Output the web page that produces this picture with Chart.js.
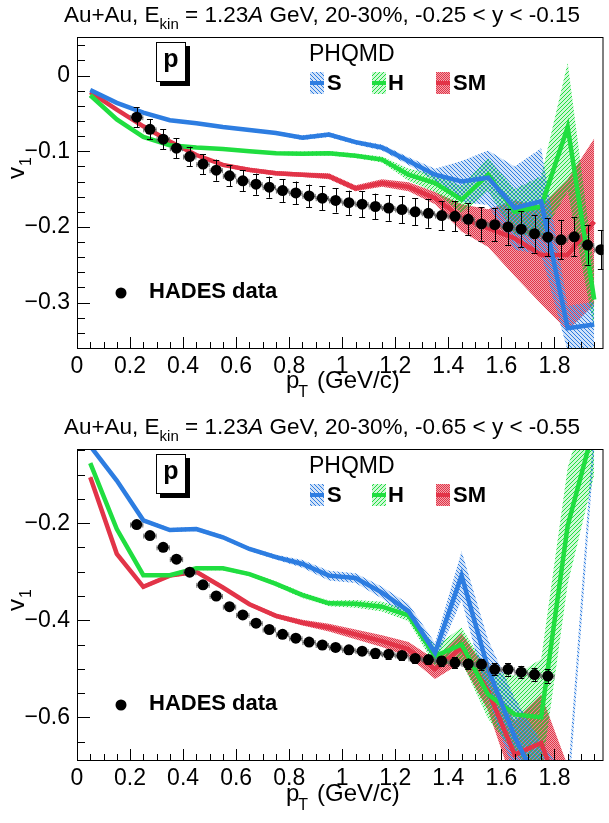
<!DOCTYPE html>
<html><head><meta charset="utf-8">
<script src="https://cdn.jsdelivr.net/npm/chart.js@4.4.0/dist/chart.umd.min.js"></script>
<style>
html,body{margin:0;padding:0;background:#fff;}
#wrap{position:relative;width:609px;height:823px;overflow:hidden;}
canvas{position:absolute;left:0;}
</style></head><body>
<div id="wrap">
<canvas id="c1" width="609" height="410" style="top:0;width:609px;height:410px"></canvas>
<canvas id="c2" width="609" height="413" style="top:410px;width:609px;height:413px"></canvas>
</div>
<script>
// ---------------- data ----------------
const modelPt = [0.05,0.15,0.25,0.35,0.45,0.55,0.65,0.75,0.85,0.95,1.05,1.15,1.25,1.35,1.45,1.55,1.65,1.75,1.85,1.95];

const topS     = [-0.019,-0.036,-0.049,-0.059,-0.063,-0.068,-0.072,-0.076,-0.082,-0.078,-0.088,-0.095,-0.113,-0.131,-0.140,-0.135,-0.175,-0.166,-0.334,-0.329];
const topSErr  = [0.002,0.002,0.002,0.002,0.002,0.002,0.002,0.002,0.003,0.003,0.003,0.004,0.005,0.008,0.027,0.036,0.055,0.070,0.030,0.030];
const topH     = [-0.026,-0.058,-0.081,-0.092,-0.095,-0.097,-0.100,-0.1025,-0.1034,-0.1025,-0.106,-0.111,-0.131,-0.142,-0.164,-0.131,-0.180,-0.173,-0.068,-0.296];
const topHErr  = [0.002,0.002,0.002,0.002,0.002,0.002,0.002,0.002,0.003,0.003,0.003,0.004,0.008,0.012,0.018,0.022,0.030,0.040,0.085,0.040];
const topSM    = [-0.022,-0.045,-0.067,-0.087,-0.105,-0.118,-0.1246,-0.129,-0.131,-0.133,-0.149,-0.142,-0.147,-0.162,-0.188,-0.2016,-0.215,-0.237,-0.237,-0.193];
const topSMErr = [0.002,0.002,0.002,0.002,0.002,0.002,0.003,0.003,0.003,0.004,0.004,0.005,0.006,0.008,0.018,0.025,0.050,0.065,0.100,0.110];

const botS     = [-0.041,-0.112,-0.194,-0.214,-0.212,-0.229,-0.253,-0.270,-0.284,-0.308,-0.313,-0.343,-0.381,-0.467,-0.308,-0.500,-0.640,-0.750,-0.760,-0.020];
const botSErr  = [0.004,0.004,0.004,0.004,0.004,0.004,0.004,0.005,0.008,0.010,0.010,0.012,0.015,0.020,0.050,0.060,0.080,0.100,0.030,0.030];
const botSLinePoints = 18;
const botH     = [-0.076,-0.212,-0.307,-0.307,-0.293,-0.293,-0.305,-0.325,-0.348,-0.365,-0.366,-0.372,-0.390,-0.474,-0.450,-0.553,-0.594,-0.600,-0.205,0.000];
const botHErr  = [0.004,0.004,0.004,0.004,0.004,0.004,0.004,0.005,0.006,0.006,0.008,0.010,0.012,0.020,0.035,0.050,0.080,0.120,0.120,0.100];
const botSM    = [-0.105,-0.263,-0.331,-0.308,-0.300,-0.3325,-0.367,-0.391,-0.405,-0.415,-0.429,-0.443,-0.460,-0.501,-0.457,-0.546,-0.677,-0.653,-0.800,-0.850];
const botSMErr = [0.004,0.004,0.004,0.004,0.004,0.004,0.004,0.005,0.006,0.008,0.010,0.012,0.015,0.020,0.030,0.040,0.070,0.100,0.100,0.100];

const dataPtTop  = [0.225,0.275,0.325,0.375,0.425,0.475,0.525,0.575,0.625,0.675,0.725,0.775,0.825,0.875,0.925,0.975,1.025,1.075,1.125,1.175,1.225,1.275,1.325,1.375,1.425,1.475,1.525,1.575,1.625,1.675,1.725,1.775,1.825,1.875,1.925,1.975];
const dataTop    = [-0.055,-0.071,-0.084,-0.096,-0.107,-0.117,-0.125,-0.1325,-0.139,-0.1435,-0.1475,-0.152,-0.155,-0.159,-0.162,-0.165,-0.168,-0.170,-0.173,-0.175,-0.177,-0.180,-0.182,-0.185,-0.186,-0.190,-0.196,-0.197,-0.200,-0.203,-0.209,-0.2135,-0.217,-0.213,-0.224,-0.230];
const dataTopErr = [0.013,0.013,0.013,0.013,0.013,0.013,0.014,0.014,0.014,0.014,0.014,0.015,0.015,0.015,0.016,0.016,0.016,0.017,0.017,0.017,0.018,0.018,0.019,0.019,0.020,0.021,0.022,0.022,0.024,0.024,0.025,0.025,0.026,0.026,0.026,0.026];

const dataPtBot  = [0.225,0.275,0.325,0.375,0.425,0.475,0.525,0.575,0.625,0.675,0.725,0.775,0.825,0.875,0.925,0.975,1.025,1.075,1.125,1.175,1.225,1.275,1.325,1.375,1.425,1.475,1.525,1.575,1.625,1.675,1.725,1.775];
const dataBot    = [-0.2027,-0.2255,-0.2497,-0.274,-0.301,-0.327,-0.350,-0.372,-0.389,-0.406,-0.419,-0.429,-0.437,-0.445,-0.451,-0.456,-0.461,-0.4636,-0.468,-0.470,-0.4725,-0.4787,-0.481,-0.484,-0.4877,-0.490,-0.491,-0.501,-0.501,-0.507,-0.512,-0.515];
const dataBotErr = [0.006,0.006,0.006,0.006,0.006,0.006,0.006,0.006,0.006,0.007,0.007,0.007,0.007,0.007,0.008,0.008,0.008,0.008,0.009,0.009,0.009,0.010,0.010,0.010,0.011,0.011,0.012,0.012,0.013,0.013,0.014,0.014];
const dataXErr = 0.025;

const xTicks      = [0,0.2,0.4,0.6,0.8,1,1.2,1.4,1.6,1.8];
const xTickLabels = ["0","0.2","0.4","0.6","0.8","1","1.2","1.4","1.6","1.8"];
const yTicksTop      = [0,-0.1,-0.2,-0.3];
const yTickLabelsTop = ["0","\u22120.1","\u22120.2","\u22120.3"];
const yTicksBot      = [-0.2,-0.4,-0.6];
const yTickLabelsBot = ["\u22120.2","\u22120.4","\u22120.6"];

const titleTop = ["Au+Au, E","kin"," = 1.23","A"," GeV, 20-30%, -0.25 < y < -0.15"];
const titleBot = ["Au+Au, E","kin"," = 1.23","A"," GeV, 20-30%, -0.65 < y < -0.55"];
const modelNames = ["S","H","SM"];

// ---------------- style ----------------
const FAM = "'Liberation Sans', Arial, Helvetica, sans-serif";
const COL = {S:'rgb(45,125,225)', H:'rgb(32,222,64)', SM:'rgb(226,52,72)'};
const TINT = {S:'rgba(45,125,225,0.22)', H:'rgba(32,222,64,0.22)', SM:'rgba(226,52,72,0.45)'};

function patternSource(name, kind){
  const n = 4;
  const c = document.createElement('canvas'); c.width = n; c.height = n;
  const g = c.getContext('2d');
  g.fillStyle = TINT[name]; g.fillRect(0,0,n,n);
  g.fillStyle = COL[name];
  for (let y=0;y<n;y++) for (let x=0;x<n;x++){
    let on=false;
    if (kind==='back') on = (x===y);
    else if (kind==='fwd') on = (x===n-1-y);
    else on = ((x+y)%2===0);
    if (on) g.fillRect(x,y,1,1);
  }
  return c;
}
function makePatterns(ctx){
  return {
    S: ctx.createPattern(patternSource('S','back'),'repeat'),
    H: ctx.createPattern(patternSource('H','fwd'),'repeat'),
    SM: ctx.createPattern(patternSource('SM','dots'),'repeat')
  };
}

function pts(xs, ys){ return xs.map((x,i)=>({x:x, y:ys[i]})); }

function modelSets(pat, name, vals, errs, lineN){
  const hi = vals.map((v,i)=>v+errs[i]);
  const lo = vals.map((v,i)=>v-errs[i]);
  const n = lineN || vals.length;
  return [
    {label:name+'_hi', data:pts(modelPt,hi), borderWidth:0, pointRadius:0, fill:false, order:10, clip:0},
    {label:name+'_lo', data:pts(modelPt,lo), borderWidth:0, pointRadius:0, fill:'-1', backgroundColor:pat[name], order:10, clip:0},
    {label:name, data:pts(modelPt.slice(0,n), vals.slice(0,n)), borderColor:COL[name], borderWidth:4.5, pointRadius:0, fill:false, order:5, clip:0}
  ];
}

function drawRich(ctx, parts, cx, y, size){
  const fonts = [size+'px '+FAM, Math.round(size*0.68)+'px '+FAM, size+'px '+FAM, 'italic '+size+'px '+FAM, size+'px '+FAM];
  const dys = [0, 7, 0, 0, 0];
  let w = 0;
  parts.forEach((p,i)=>{ ctx.font = fonts[i]; w += ctx.measureText(p).width; });
  let x = cx - w/2;
  ctx.textAlign='left'; ctx.textBaseline='alphabetic'; ctx.fillStyle='#000';
  parts.forEach((p,i)=>{ ctx.font = fonts[i]; ctx.fillText(p, x, y+dys[i]); x += ctx.measureText(p).width; });
}

const errPlugin = {
  id:'errbars',
  beforeDatasetDraw(chart, args){
    const ds = chart.data.datasets[args.index];
    if (!ds.yErrs) return;
    const ctx = chart.ctx, xs = chart.scales.x, ys = chart.scales.y, a = chart.chartArea;
    ctx.save();
    ctx.beginPath(); ctx.rect(a.left, a.top, a.right-a.left, a.bottom-a.top); ctx.clip();
    ds.data.forEach((p,i)=>{
      const px = xs.getPixelForValue(p.x), py = ys.getPixelForValue(p.y);
      const x1 = xs.getPixelForValue(p.x-dataXErr), x2 = xs.getPixelForValue(p.x+dataXErr);
      const y1 = ys.getPixelForValue(p.y+ds.yErrs[i]), y2 = ys.getPixelForValue(p.y-ds.yErrs[i]);
      ctx.strokeStyle = '#6a6a6a'; ctx.lineWidth = 1;
      ctx.beginPath();
      ctx.moveTo(x1, py+0.5); ctx.lineTo(x2, py+0.5);
      ctx.moveTo(x1+0.5, py-2); ctx.lineTo(x1+0.5, py+3);
      ctx.moveTo(x2-0.5, py-2); ctx.lineTo(x2-0.5, py+3);
      ctx.stroke();
      ctx.strokeStyle = '#000';
      ctx.beginPath();
      ctx.moveTo(Math.round(px)+0.5, y1); ctx.lineTo(Math.round(px)+0.5, y2);
      ctx.moveTo(px-3, Math.round(y1)+0.5); ctx.lineTo(px+3, Math.round(y1)+0.5);
      ctx.moveTo(px-3, Math.round(y2)+0.5); ctx.lineTo(px+3, Math.round(y2)+0.5);
      ctx.stroke();
    });
    ctx.restore();
  }
};

const decoPlugin = {
  id:'deco',
  afterDraw(chart){
    const o = chart.options.plugins.deco;
    const pat = o.pat;
    const ctx = chart.ctx, a = chart.chartArea, xs = chart.scales.x, ys = chart.scales.y;
    ctx.save();
    // frame
    ctx.strokeStyle = '#000'; ctx.lineWidth = 1;
    ctx.strokeRect(a.left+0.5, a.top+0.5, a.right-a.left-1, a.bottom-a.top);
    // ticks (inward)
    ctx.beginPath();
    for (let k=0; k*0.05<=1.985+1e-9; k++){
      const v = k*0.05;
      const px = Math.round(xs.getPixelForValue(v))+0.5;
      const major = (k%4===0);
      ctx.moveTo(px, a.bottom); ctx.lineTo(px, a.bottom-(major?11:6));
    }
    for (let k=Math.ceil(o.yMin/o.yMinorStep-1e-6); k*o.yMinorStep<=o.yMax+1e-9; k++){
      const v = k*o.yMinorStep;
      const py = Math.round(ys.getPixelForValue(v))+0.5;
      const major = Math.abs(v/o.yMajorStep - Math.round(v/o.yMajorStep))<1e-6;
      ctx.moveTo(a.left, py); ctx.lineTo(a.left+(major?13:8), py);
    }
    ctx.stroke();
    // title
    drawRich(ctx, o.title, 322, o.titleY, 22.5);
    // y axis title v_1
    ctx.save();
    ctx.translate(o.vX, o.vY); ctx.rotate(-Math.PI/2);
    ctx.fillStyle='#000'; ctx.textAlign='left'; ctx.textBaseline='alphabetic';
    ctx.font = '24px '+FAM; ctx.fillText('v', 0, 0);
    const vw = ctx.measureText('v').width;
    ctx.font = '16px '+FAM; ctx.fillText('1', vw+1, 7);
    ctx.restore();
    // x axis title p_T (GeV/c)
    ctx.fillStyle='#000'; ctx.textAlign='left'; ctx.textBaseline='alphabetic';
    ctx.font = '24px '+FAM; ctx.fillText('p', 286, o.xtY);
    const pw = ctx.measureText('p').width;
    ctx.font = '16px '+FAM; ctx.fillText('T', 286+pw-1, o.xtY+9);
    ctx.font = '24px '+FAM; ctx.fillText('(GeV/c)', 317, o.xtY);
    // p box
    const bt = a.top+5;
    ctx.fillStyle='#000'; ctx.fillRect(160, bt+4, 30, 40);
    ctx.fillStyle='#fff'; ctx.fillRect(156, bt, 30, 40);
    ctx.strokeStyle='#000'; ctx.strokeRect(156.5, bt+0.5, 29, 39);
    ctx.fillStyle='#000'; ctx.font='bold 25px '+FAM; ctx.textAlign='center';
    ctx.fillText('p', 171, bt+25);
    // legend
    ctx.textAlign='left';
    ctx.font='23px '+FAM; ctx.fillText('PHQMD', 309, a.top+24);
    const sx = [310, 372, 436], tx = [327, 388, 453];
    modelNames.forEach((n,i)=>{
      ctx.fillStyle = pat[n]; ctx.fillRect(sx[i], a.top+35, 14, 22);
      ctx.fillStyle = COL[n]; ctx.fillRect(sx[i], a.top+44, 14, 4);
      ctx.fillStyle = '#000'; ctx.font='bold 22px '+FAM; ctx.fillText(n, tx[i], a.top+53);
    });
    // HADES legend
    ctx.beginPath(); ctx.arc(121, a.top+256, 5.5, 0, Math.PI*2); ctx.fill();
    ctx.font='bold 22px '+FAM; ctx.fillText('HADES data', 149, a.top+261);
    ctx.restore();
  }
};

function makeChart(id, H, top, build, yMin, yMax, yTicks, yLabels, deco){
  const bottom = top + 311;
  const canvas = document.getElementById(id);
  const pat = makePatterns(canvas.getContext('2d'));
  deco.pat = pat;
  return new Chart(canvas, {
    type:'line',
    data:{datasets:build(pat)},
    options:{
      responsive:false, animation:false, devicePixelRatio:1,
      layout:{padding:{top:top, left:0, right:2, bottom:0}},
      plugins:{legend:{display:false}, tooltip:{enabled:false}, deco:deco},
      scales:{
        x:{type:'linear', min:0, max:1.985,
           grid:{display:false, drawTicks:false}, border:{display:false},
           afterBuildTicks:s=>{ s.ticks = xTicks.map(v=>({value:v})); },
           afterFit:s=>{ s.height = H-bottom; },
           ticks:{autoSkip:false, maxRotation:0, padding:5, color:'#000', font:{family:FAM, size:23},
                  callback:(v,i)=>xTickLabels[i]}},
        y:{type:'linear', min:yMin, max:yMax,
           grid:{display:false, drawTicks:false}, border:{display:false},
           afterBuildTicks:s=>{ s.ticks = yTicks.map(v=>({value:v})); },
           afterFit:s=>{ s.width = 77; },
           ticks:{autoSkip:false, padding:7, color:'#000', font:{family:FAM, size:23},
                  callback:(v,i)=>yLabels[i]}}
      }
    },
    plugins:[errPlugin, decoPlugin]
  });
}

function hadesSet(xs, ys, errs){
  return {label:'HADES', data:pts(xs,ys), yErrs:errs, showLine:false, pointRadius:5.5,
          pointBackgroundColor:'#000', pointBorderColor:'#000', pointBorderWidth:0, order:0, clip:0};
}

makeChart('c1', 410, 37, pat => [].concat(
    modelSets(pat,'S', topS, topSErr), modelSets(pat,'H', topH, topHErr), modelSets(pat,'SM', topSM, topSMErr),
    [hadesSet(dataPtTop, dataTop, dataTopErr)]),
  -0.36, 0.051, yTicksTop, yTickLabelsTop,
  {title:titleTop, titleY:22, yMin:-0.36, yMax:0.051, yMinorStep:0.02, yMajorStep:0.1, vX:24, vY:179, xtY:388});
makeChart('c2', 413, 39, pat => [].concat(
    modelSets(pat,'S', botS, botSErr, botSLinePoints), modelSets(pat,'H', botH, botHErr), modelSets(pat,'SM', botSM, botSMErr),
    [hadesSet(dataPtBot, dataBot, dataBotErr)]),
  -0.688, -0.047, yTicksBot, yTickLabelsBot,
  {title:titleBot, titleY:24, yMin:-0.688, yMax:-0.047, yMinorStep:0.05, yMajorStep:0.2, vX:24, vY:201, xtY:391});
</script>
</body></html>
